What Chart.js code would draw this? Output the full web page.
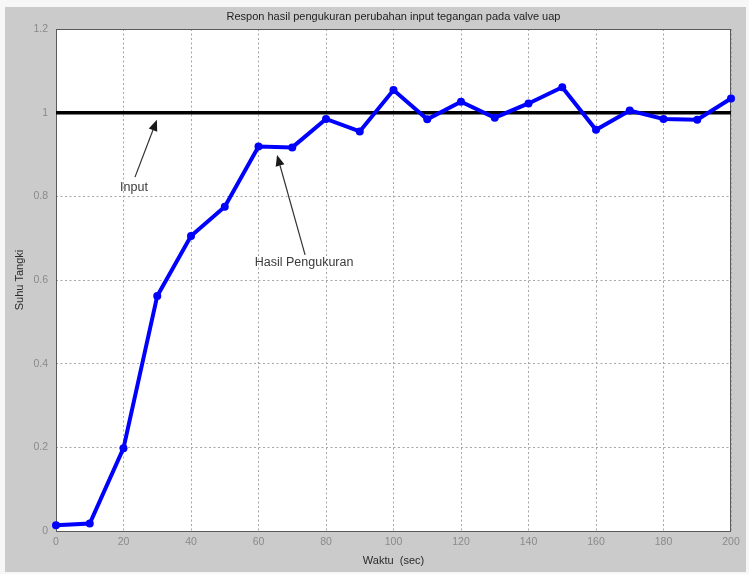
<!DOCTYPE html>
<html>
<head>
<meta charset="utf-8">
<script src="https://cdn.jsdelivr.net/npm/chart.js@4/dist/chart.umd.min.js"></script>
<style>
  html, body { margin: 0; padding: 0; background: #f7f7f7; }
  canvas { display: block; }
</style>
</head>
<body>
<canvas id="c" width="749" height="574"></canvas>
<script>
// Time axis (seconds) and measured tank temperature response
const waktu = [0, 10, 20, 30, 40, 50, 60, 70, 80, 90, 100, 110, 120, 130, 140, 150, 160, 170, 180, 190, 200];
const hasilPengukuran = [0.014, 0.018, 0.198, 0.562, 0.705, 0.775, 0.919, 0.917, 0.985, 0.955, 1.054,
                         0.984, 1.026, 0.988, 1.022, 1.061, 0.959, 1.005, 0.985, 0.983, 1.034];
// Step input level
const inputX = [0, 200];
const inputY = [1, 1];

// Tick labels
const xTicks = [0, 20, 40, 60, 80, 100, 120, 140, 160, 180, 200];
const yTicks = [0, 0.2, 0.4, 0.6, 0.8, 1, 1.2];

// Annotation texts and arrows (in data units)
const noteText = ['Input', 'Hasil Pengukuran'];
const noteX = [23.1, 73.5];
const noteY = [0.822, 0.641];
const arrowFromX = [23.4, 73.8];
const arrowFromY = [0.846, 0.660];
const arrowToX = [29.9, 65.5];
const arrowToY = [0.983, 0.899];

const FONT = '"Liberation Sans", Arial, sans-serif';

const figurePanel = {
  id: 'figurePanel',
  beforeDraw(chart) {
    const ctx = chart.ctx;
    const a = chart.chartArea;
    ctx.save();
    ctx.fillStyle = '#f7f7f7';
    ctx.fillRect(0, 0, chart.width, chart.height);
    ctx.fillStyle = '#cbcbcb';
    ctx.fillRect(5, 7, 741, 565);
    ctx.fillStyle = '#ffffff';
    ctx.fillRect(a.left, a.top, a.right - a.left, a.bottom - a.top);
    ctx.restore();
  },
  beforeDatasetsDraw(chart) {
    const ctx = chart.ctx;
    const a = chart.chartArea;
    ctx.save();
    ctx.strokeStyle = '#5a5a5a';
    ctx.lineWidth = 1;
    ctx.strokeRect(a.left + 0.5, a.top + 0.5, a.right - a.left - 1, a.bottom - a.top);
    ctx.restore();
  },
  afterDatasetsDraw(chart) {
    const ctx = chart.ctx;
    const xs = chart.scales.x, ys = chart.scales.y;
    ctx.save();
    for (let i = 0; i < noteText.length; i++) {
      const x0 = xs.getPixelForValue(arrowFromX[i]);
      const y0 = ys.getPixelForValue(arrowFromY[i]);
      const x1 = xs.getPixelForValue(arrowToX[i]);
      const y1 = ys.getPixelForValue(arrowToY[i]);
      const ang = Math.atan2(y1 - y0, x1 - x0);
      const headLen = 11, headW = 4.5;
      const bx = x1 - headLen * Math.cos(ang), by = y1 - headLen * Math.sin(ang);
      ctx.strokeStyle = '#333333';
      ctx.lineWidth = 1.2;
      ctx.beginPath();
      ctx.moveTo(x0, y0);
      ctx.lineTo(bx, by);
      ctx.stroke();
      ctx.fillStyle = '#1a1a1a';
      ctx.beginPath();
      ctx.moveTo(x1, y1);
      ctx.lineTo(bx + headW * Math.sin(ang), by - headW * Math.cos(ang));
      ctx.lineTo(bx - headW * Math.sin(ang), by + headW * Math.cos(ang));
      ctx.closePath();
      ctx.fill();

      ctx.fillStyle = '#3a3a3a';
      ctx.font = '12.5px ' + FONT;
      ctx.textAlign = 'center';
      ctx.textBaseline = 'middle';
      ctx.fillText(noteText[i], xs.getPixelForValue(noteX[i]), ys.getPixelForValue(noteY[i]));
    }
    ctx.restore();
  }
};

new Chart(document.getElementById('c'), {
  type: 'line',
  data: {
    datasets: [
      {
        label: 'Hasil Pengukuran',
        data: waktu.map((t, i) => ({ x: t, y: hasilPengukuran[i] })),
        borderColor: '#0000ff',
        backgroundColor: '#0000ff',
        borderWidth: 4,
        pointRadius: 4,
        pointBackgroundColor: '#0000ff',
        pointBorderColor: '#0000ff',
        pointBorderWidth: 0,
        tension: 0,
        clip: false,
        order: 0
      },
      {
        label: 'Input',
        data: inputX.map((t, i) => ({ x: t, y: inputY[i] })),
        borderColor: '#000000',
        borderWidth: 3.5,
        pointRadius: 0,
        tension: 0,
        order: 1
      }
    ]
  },
  options: {
    responsive: false,
    devicePixelRatio: 1,
    animation: false,
    events: [],
    layout: { padding: { left: 0, right: 18, top: 0, bottom: 0 } },
    plugins: {
      legend: { display: false },
      tooltip: { enabled: false },
      title: {
        display: true,
        fullSize: false,
        text: 'Respon hasil pengukuran perubahan input tegangan pada valve uap',
        color: '#1e1e1e',
        font: { family: FONT, size: 11, weight: 'normal' },
        padding: { top: 10.4, bottom: 5.4 }
      }
    },
    scales: {
      x: {
        type: 'linear',
        min: 0,
        max: 200,
        afterBuildTicks(scale) { scale.ticks = xTicks.map(v => ({ value: v })); },
        afterFit(scale) { scale.height = 43; },
        ticks: {
          color: '#8a8a8a',
          font: { family: FONT, size: 10.5 },
          padding: 5,
          maxRotation: 0,
          autoSkip: false
        },
        grid: { color: '#a6a6a6', lineWidth: 1, drawTicks: false },
        border: { display: false, dash: [2, 2.5] },
        title: {
          display: true,
          text: 'Waktu  (sec)',
          color: '#2a2a2a',
          font: { family: FONT, size: 11 },
          padding: { top: 0, bottom: 6.4 }
        }
      },
      y: {
        type: 'linear',
        min: 0,
        max: 1.2,
        afterBuildTicks(scale) { scale.ticks = yTicks.map(v => ({ value: v })); },
        afterFit(scale) { scale.width = 56; },
        ticks: {
          color: '#8a8a8a',
          font: { family: FONT, size: 10.5 },
          padding: 8,
          autoSkip: false,
          callback: v => String(+v.toFixed(1))
        },
        grid: { color: '#a6a6a6', lineWidth: 1, drawTicks: false },
        border: { display: false, dash: [2, 2.5] },
        title: {
          display: true,
          text: 'Suhu Tangki',
          color: '#2a2a2a',
          font: { family: FONT, size: 11 },
          padding: { top: 13.4, bottom: 0 }
        }
      }
    }
  },
  plugins: [figurePanel]
});
</script>
</body>
</html>
